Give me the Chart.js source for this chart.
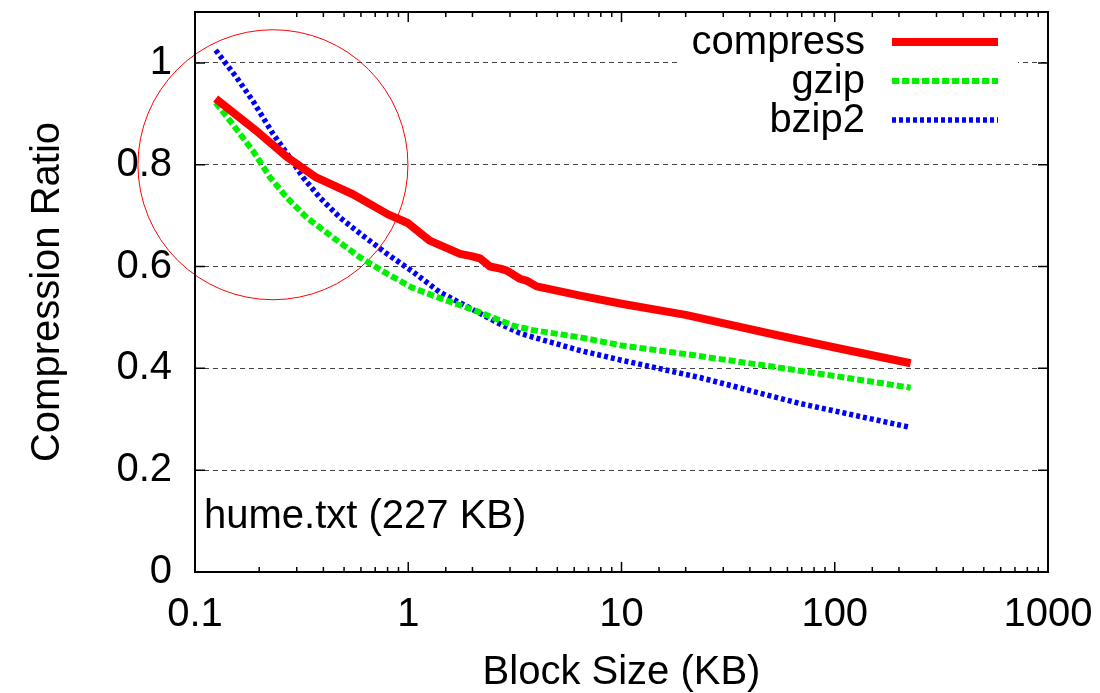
<!DOCTYPE html>
<html lang="en">
<head>
  <meta charset="UTF-8" />
  <title>Compression Ratio vs Block Size</title>
  <script src="https://cdn.jsdelivr.net/npm/chart.js"></script>
  <style>
    body { margin: 0; background: #fff; }
    .chart-box { width: 1100px; height: 693px; position: relative; }
  </style>
</head>
<body>
  <div class="chart-box">
    <canvas id="grafico"></canvas>
  </div>

  <script>
    // block size (KB) / compression ratio
    const compressX = [0.125, 0.2, 0.27, 0.37, 0.55, 0.8, 1.0, 1.26, 1.5, 1.75, 2.0, 2.17, 2.42, 2.7, 2.9, 3.34, 3.6, 4.0, 6.4, 10, 20, 50, 100, 227];
    const compressY = [0.93, 0.862, 0.815, 0.775, 0.742, 0.703, 0.685, 0.651, 0.637, 0.625, 0.62, 0.616, 0.6, 0.596, 0.592, 0.576, 0.572, 0.561, 0.543, 0.527, 0.505, 0.468, 0.441, 0.41];

    const gzipX = [0.125, 0.15, 0.187, 0.225, 0.27, 0.335, 0.444, 0.594, 0.795, 1.05, 1.45, 2.17, 3.1, 3.85, 6.4, 10, 20, 50, 100, 227];
    const gzipY = [0.922, 0.88, 0.827, 0.775, 0.735, 0.696, 0.657, 0.618, 0.586, 0.558, 0.536, 0.51, 0.484, 0.475, 0.461, 0.445, 0.428, 0.404, 0.385, 0.362];

    const bzip2X = [0.125, 0.157, 0.187, 0.232, 0.27, 0.321, 0.386, 0.479, 0.594, 0.795, 1.05, 1.4, 2.17, 2.61, 3.34, 4.02, 6.4, 10, 23.3, 68.7, 227];
    const bzip2Y = [1.025, 0.971, 0.925, 0.861, 0.822, 0.775, 0.735, 0.696, 0.665, 0.625, 0.59, 0.55, 0.508, 0.49, 0.469, 0.459, 0.435, 0.416, 0.382, 0.331, 0.284];

    // the hand-drawn red circle (centre in data units)
    const circleX = [0.232];
    const circleY = [0.8];

    const yTicks = [0, 0.2, 0.4, 0.6, 0.8, 1];
    const xDecades = [0.1, 1, 10, 100, 1000];

    const FONT = "'Liberation Sans', Arial, Helvetica, sans-serif";

    function puntos(xs, ys) {
      return xs.map((x, i) => ({ x: x, y: ys[i] }));
    }

    function esDecada(v) {
      const l = Math.log10(v);
      return Math.abs(l - Math.round(l)) < 1e-9;
    }

    function sinRelleno(s) {
      s.paddingTop = 0;
      s.paddingBottom = 0;
      s.paddingLeft = 0;
      s.paddingRight = 0;
    }

    // gnuplot-like frame: border, inward ticks, opaque key, file label
    const marco = {
      id: 'marco',
      afterDatasetsDraw(chart) {
        const ctx = chart.ctx;
        const a = chart.chartArea;
        const xs = chart.scales.x;
        const ys = chart.scales.y;
        ctx.save();

        // key
        ctx.fillStyle = '#fff';
        ctx.fillRect(a.right - 370, a.top + 8, 340, 122);
        ctx.font = '40px ' + FONT;
        ctx.textAlign = 'right';
        ctx.textBaseline = 'middle';
        chart.data.datasets.forEach((ds, i) => {
          if (ds.enLeyenda === false) return;
          const y = a.top + 30 + i * 39;
          ctx.fillStyle = '#000';
          ctx.fillText(ds.label, a.right - 183, y + 1);
          ctx.beginPath();
          ctx.strokeStyle = ds.borderColor;
          ctx.lineWidth = ds.borderWidth;
          ctx.lineCap = 'butt';
          ctx.setLineDash(ds.borderDash || []);
          ctx.moveTo(a.right - 156, y);
          ctx.lineTo(a.right - 50, y);
          ctx.stroke();
        });
        ctx.setLineDash([]);

        // file label
        ctx.fillStyle = '#000';
        ctx.textAlign = 'left';
        ctx.fillText('hume.txt (227 KB)', a.left + 9, ys.getPixelForValue(0.1) - 4);

        // border
        ctx.strokeStyle = '#000';
        ctx.lineWidth = 2;
        ctx.strokeRect(a.left, a.top, a.right - a.left, a.bottom - a.top);

        // ticks
        ctx.lineWidth = 1.5;
        ctx.beginPath();
        xs.ticks.forEach(t => {
          const px = xs.getPixelForValue(t.value);
          if (px < a.left + 1 || px > a.right - 1) return;
          const len = esDecada(t.value) ? 10 : 5;
          ctx.moveTo(px, a.bottom);
          ctx.lineTo(px, a.bottom - len);
          ctx.moveTo(px, a.top);
          ctx.lineTo(px, a.top + len);
        });
        ys.ticks.forEach(t => {
          const py = ys.getPixelForValue(t.value);
          ctx.moveTo(a.left, py);
          ctx.lineTo(a.left + 10, py);
          ctx.moveTo(a.right, py);
          ctx.lineTo(a.right - 10, py);
        });
        ctx.stroke();
        ctx.restore();
      }
    };

    const ctx = document.getElementById('grafico').getContext('2d');
    new Chart(ctx, {
      type: 'line',
      data: {
        datasets: [
          {
            label: 'compress',
            data: puntos(compressX, compressY),
            borderColor: '#ff0000',
            borderWidth: 8,
            borderCapStyle: 'butt',
            borderJoinStyle: 'round',
            pointRadius: 0
          },
          {
            label: 'gzip',
            data: puntos(gzipX, gzipY),
            borderColor: '#00f000',
            borderWidth: 6,
            borderDash: [7, 3],
            borderCapStyle: 'butt',
            pointRadius: 0
          },
          {
            label: 'bzip2',
            data: puntos(bzip2X, bzip2Y),
            borderColor: '#0000ff',
            borderWidth: 5.5,
            borderDash: [4, 3],
            borderCapStyle: 'butt',
            pointRadius: 0
          },
          {
            label: 'circle',
            type: 'scatter',
            enLeyenda: false,
            data: puntos(circleX, circleY),
            pointRadius: 135,
            pointHoverRadius: 135,
            pointBorderWidth: 1,
            pointBorderColor: '#ff0000',
            pointBackgroundColor: 'rgba(0,0,0,0)',
            showLine: false,
            clip: false
          }
        ]
      },
      options: {
        responsive: true,
        maintainAspectRatio: false,
        animation: false,
        events: [],
        layout: { autoPadding: false, padding: { top: 12, right: 52, left: 0, bottom: 0 } },
        plugins: {
          legend: { display: false },
          tooltip: { enabled: false }
        },
        scales: {
          x: {
            type: 'logarithmic',
            min: xDecades[0],
            max: xDecades[xDecades.length - 1],
            afterFit: s => { s.height = 121; sinRelleno(s); },
            grid: { display: false },
            border: { display: false },
            ticks: {
              autoSkip: false,
              maxRotation: 0,
              padding: 11,
              color: '#000',
              font: { family: FONT, size: 40 },
              callback: v => (esDecada(v) && xDecades.some(d => Math.abs(d - v) < 1e-9)) ? String(v) : ''
            },
            title: {
              display: true,
              text: 'Block Size (KB)',
              color: '#000',
              font: { family: FONT, size: 40, lineHeight: 1.0 },
              padding: { top: 0, bottom: 0 }
            }
          },
          y: {
            type: 'linear',
            min: 0,
            max: 1.1,
            afterFit: s => { s.width = 195; sinRelleno(s); },
            afterBuildTicks: s => { s.ticks = yTicks.map(v => ({ value: v })); },
            grid: {
              drawTicks: false,
              color: c => (c.tick && c.tick.value > 0) ? '#444' : 'rgba(0,0,0,0)',
              lineWidth: 1
            },
            border: { display: false, dash: [5, 4] },
            ticks: {
              padding: 23,
              color: '#000',
              font: { family: FONT, size: 40 },
              callback: v => String(v)
            },
            title: {
              display: true,
              text: 'Compression Ratio',
              color: '#000',
              font: { family: FONT, size: 40, lineHeight: 1.2 },
              padding: { top: 24, bottom: 0 }
            }
          }
        }
      },
      plugins: [marco]
    });
  </script>
</body>
</html>
